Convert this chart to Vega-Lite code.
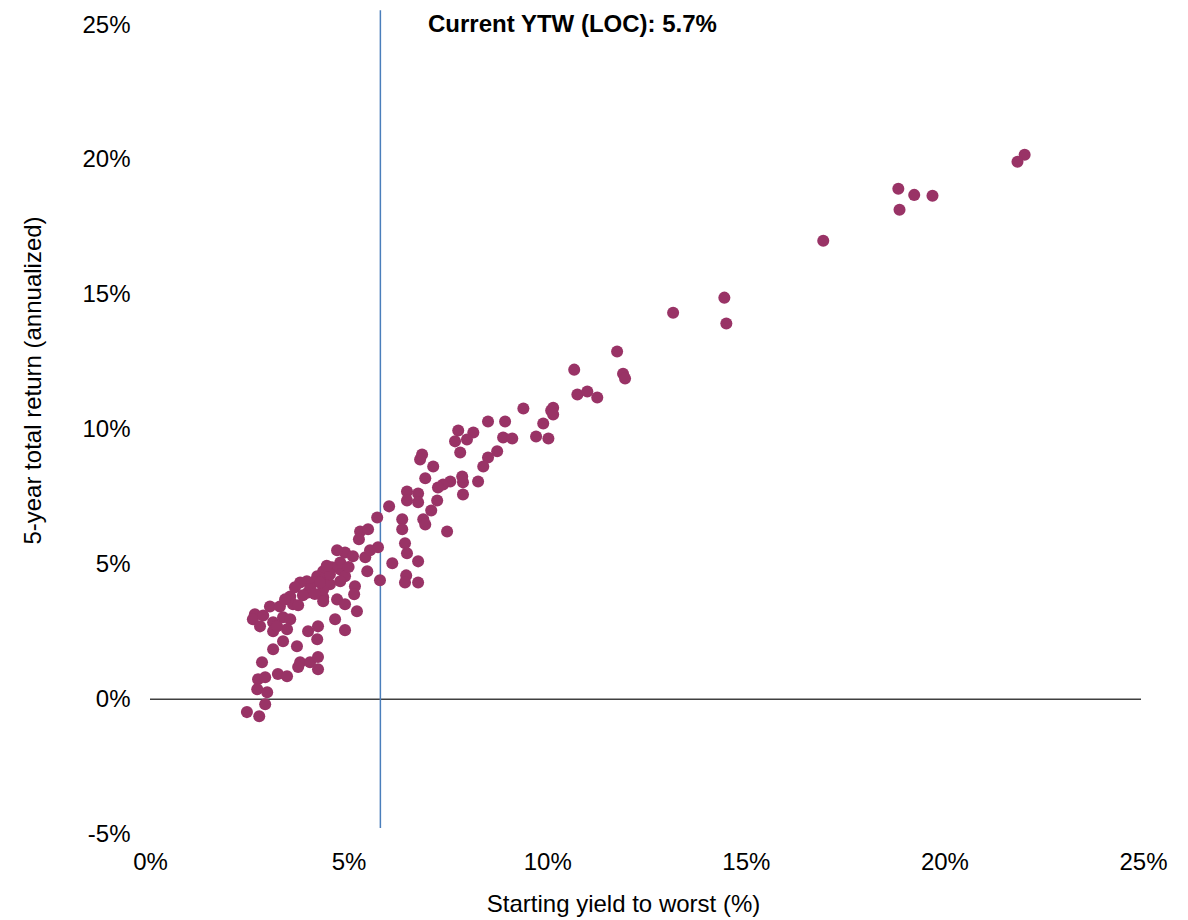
{
  "$schema": "https://vega.github.io/schema/vega-lite/v6.json",
  "width": 993,
  "height": 809,
  "autosize": {"type": "none"},
  "padding": {"left": 150, "top": 25, "right": 45, "bottom": 86},
  "background": "white",
  "config": {
    "view": {"stroke": null},
    "font": "Liberation Sans",
    "axis": {"grid": false, "domain": false, "ticks": false, "labelFlush": false, "labelFont": "Liberation Sans", "titleFont": "Liberation Sans", "labelColor": "#000000", "titleColor": "#000000", "titleFontWeight": "normal"}
  },
  "datasets": {
    "points": [
      {"yield": 22.02, "ret": 20.19}, {"yield": 21.84, "ret": 19.93}, {"yield": 18.84, "ret": 18.93}, {"yield": 19.24, "ret": 18.70},
      {"yield": 19.70, "ret": 18.67}, {"yield": 18.87, "ret": 18.15}, {"yield": 16.95, "ret": 17.00}, {"yield": 14.46, "ret": 14.89},
      {"yield": 13.17, "ret": 14.33}, {"yield": 14.51, "ret": 13.93}, {"yield": 11.76, "ret": 12.89}, {"yield": 11.91, "ret": 12.07},
      {"yield": 11.96, "ret": 11.89}, {"yield": 10.68, "ret": 12.22}, {"yield": 10.76, "ret": 11.30}, {"yield": 11.01, "ret": 11.41},
      {"yield": 11.26, "ret": 11.19}, {"yield": 10.15, "ret": 10.81}, {"yield": 10.10, "ret": 10.70}, {"yield": 10.15, "ret": 10.56},
      {"yield": 9.40, "ret": 10.78}, {"yield": 9.90, "ret": 10.22}, {"yield": 9.72, "ret": 9.74}, {"yield": 10.03, "ret": 9.67},
      {"yield": 8.94, "ret": 10.30}, {"yield": 8.51, "ret": 10.30}, {"yield": 8.89, "ret": 9.70}, {"yield": 9.12, "ret": 9.67},
      {"yield": 8.74, "ret": 9.19}, {"yield": 8.51, "ret": 8.96}, {"yield": 8.39, "ret": 8.63}, {"yield": 8.26, "ret": 8.07},
      {"yield": 7.88, "ret": 8.04}, {"yield": 7.86, "ret": 8.26}, {"yield": 7.88, "ret": 7.59}, {"yield": 7.56, "ret": 8.07},
      {"yield": 7.38, "ret": 7.96}, {"yield": 7.25, "ret": 7.85}, {"yield": 7.76, "ret": 9.96}, {"yield": 8.14, "ret": 9.89},
      {"yield": 7.68, "ret": 9.56}, {"yield": 7.98, "ret": 9.63}, {"yield": 7.81, "ret": 9.15}, {"yield": 6.85, "ret": 9.07},
      {"yield": 6.80, "ret": 8.89}, {"yield": 7.13, "ret": 8.63}, {"yield": 6.93, "ret": 8.19}, {"yield": 7.23, "ret": 7.37},
      {"yield": 6.47, "ret": 7.70}, {"yield": 6.75, "ret": 7.63}, {"yield": 6.47, "ret": 7.37}, {"yield": 6.75, "ret": 7.30},
      {"yield": 6.02, "ret": 7.15}, {"yield": 7.08, "ret": 7.00}, {"yield": 6.88, "ret": 6.67}, {"yield": 6.93, "ret": 6.48},
      {"yield": 5.72, "ret": 6.74}, {"yield": 6.35, "ret": 6.67}, {"yield": 6.35, "ret": 6.30}, {"yield": 7.48, "ret": 6.22},
      {"yield": 5.29, "ret": 6.22}, {"yield": 5.49, "ret": 6.30}, {"yield": 5.26, "ret": 5.93}, {"yield": 6.42, "ret": 5.78},
      {"yield": 6.47, "ret": 5.41}, {"yield": 5.74, "ret": 5.63}, {"yield": 4.91, "ret": 5.44}, {"yield": 5.11, "ret": 5.30},
      {"yield": 5.42, "ret": 5.26}, {"yield": 5.54, "ret": 5.52}, {"yield": 5.47, "ret": 4.74}, {"yield": 6.10, "ret": 5.04},
      {"yield": 6.75, "ret": 5.11}, {"yield": 5.79, "ret": 4.41}, {"yield": 6.45, "ret": 4.59}, {"yield": 6.42, "ret": 4.33},
      {"yield": 6.75, "ret": 4.33}, {"yield": 4.79, "ret": 4.81}, {"yield": 4.91, "ret": 4.56}, {"yield": 5.16, "ret": 4.19},
      {"yield": 5.14, "ret": 3.89}, {"yield": 4.79, "ret": 5.07}, {"yield": 4.58, "ret": 4.89}, {"yield": 4.36, "ret": 4.74},
      {"yield": 4.21, "ret": 4.56}, {"yield": 4.36, "ret": 4.44}, {"yield": 4.53, "ret": 4.26}, {"yield": 4.11, "ret": 4.33},
      {"yield": 3.95, "ret": 4.37}, {"yield": 3.78, "ret": 4.33}, {"yield": 3.65, "ret": 4.15}, {"yield": 3.98, "ret": 3.96},
      {"yield": 4.36, "ret": 3.78}, {"yield": 4.71, "ret": 3.70}, {"yield": 4.91, "ret": 3.52}, {"yield": 3.53, "ret": 3.81},
      {"yield": 3.02, "ret": 3.44}, {"yield": 3.27, "ret": 3.44}, {"yield": 3.60, "ret": 3.52}, {"yield": 4.71, "ret": 5.52},
      {"yield": 4.03, "ret": 4.07}, {"yield": 4.36, "ret": 4.07}, {"yield": 4.28, "ret": 4.33}, {"yield": 4.79, "ret": 4.37},
      {"yield": 4.53, "ret": 4.63}, {"yield": 2.64, "ret": 3.15}, {"yield": 3.73, "ret": 3.48}, {"yield": 2.59, "ret": 2.96},
      {"yield": 2.77, "ret": 2.70}, {"yield": 3.10, "ret": 2.85}, {"yield": 3.35, "ret": 3.04}, {"yield": 3.53, "ret": 2.96},
      {"yield": 3.10, "ret": 2.52}, {"yield": 3.45, "ret": 2.59}, {"yield": 3.35, "ret": 2.15}, {"yield": 3.70, "ret": 1.96},
      {"yield": 3.10, "ret": 1.85}, {"yield": 2.82, "ret": 1.37}, {"yield": 3.98, "ret": 2.52}, {"yield": 4.23, "ret": 2.70},
      {"yield": 4.21, "ret": 2.22}, {"yield": 4.66, "ret": 2.96}, {"yield": 4.91, "ret": 2.56}, {"yield": 4.36, "ret": 3.63},
      {"yield": 5.21, "ret": 3.26}, {"yield": 3.78, "ret": 1.37}, {"yield": 4.03, "ret": 1.37}, {"yield": 4.23, "ret": 1.56},
      {"yield": 4.23, "ret": 1.11}, {"yield": 3.73, "ret": 1.19}, {"yield": 3.22, "ret": 0.93}, {"yield": 3.45, "ret": 0.85},
      {"yield": 2.72, "ret": 0.74}, {"yield": 2.90, "ret": 0.81}, {"yield": 2.70, "ret": 0.37}, {"yield": 2.95, "ret": 0.26},
      {"yield": 2.90, "ret": -0.19}, {"yield": 2.44, "ret": -0.48}, {"yield": 2.75, "ret": -0.63},
      {"yield": 3.85, "ret": 3.85}, {"yield": 3.40, "ret": 3.70}, {"yield": 4.15, "ret": 3.90}, {"yield": 2.85, "ret": 3.10},
      {"yield": 3.20, "ret": 2.70}, {"yield": 4.45, "ret": 4.95}, {"yield": 5.00, "ret": 4.90}
    ],
    "zeroLine": [{"x": 0, "x2": 24.95, "y": 0}],
    "ytwLine": [{"x": 5.8, "y": -4.78, "y2": 25.55}],
    "label": [{"x": 7.0, "y": 25, "text": "Current YTW (LOC): 5.7%"}]
  },
  "layer": [
    {
      "data": {"name": "zeroLine"},
      "mark": {"type": "rule", "color": "#404040", "strokeWidth": 1.5},
      "encoding": {
        "x": {"field": "x", "type": "quantitative", "scale": {"domain": [0, 25], "nice": false, "zero": false}, "axis": {"values": [0, 5, 10, 15, 20, 25], "labelExpr": "datum.value + '%'", "labelFontSize": 24, "labelPadding": 16, "title": "Starting yield to worst (%)", "titleFontSize": 24, "titlePadding": 18, "titleX": 473}},
        "x2": {"field": "x2"},
        "y": {"field": "y", "type": "quantitative", "scale": {"domain": [-5, 25], "nice": false, "zero": false}, "axis": {"values": [-5, 0, 5, 10, 15, 20, 25], "labelExpr": "datum.value + '%'", "labelFontSize": 24, "labelPadding": 20, "title": "5-year total return (annualized)", "titleFontSize": 24, "titlePadding": 36, "titleY": 355}}
      }
    },
    {
      "data": {"name": "ytwLine"},
      "mark": {"type": "rule", "color": "#4a7ebb", "strokeWidth": 1.5, "clip": false},
      "encoding": {
        "x": {"field": "x", "type": "quantitative", "scale": {"domain": [0, 25], "nice": false, "zero": false}},
        "y": {"field": "y", "type": "quantitative", "scale": {"domain": [-5, 25], "nice": false, "zero": false}},
        "y2": {"field": "y2"}
      }
    },
    {
      "data": {"name": "points"},
      "mark": {"type": "circle", "color": "#993366", "opacity": 1, "size": 145},
      "encoding": {
        "x": {"field": "yield", "type": "quantitative", "scale": {"domain": [0, 25], "nice": false, "zero": false}},
        "y": {"field": "ret", "type": "quantitative", "scale": {"domain": [-5, 25], "nice": false, "zero": false}}
      }
    },
    {
      "data": {"name": "label"},
      "mark": {"type": "text", "align": "left", "baseline": "middle", "fontWeight": "bold", "fontSize": 24, "font": "Liberation Sans", "color": "#000000", "clip": false},
      "encoding": {
        "x": {"field": "x", "type": "quantitative", "scale": {"domain": [0, 25], "nice": false, "zero": false}},
        "y": {"field": "y", "type": "quantitative", "scale": {"domain": [-5, 25], "nice": false, "zero": false}},
        "text": {"field": "text"}
      }
    }
  ]
}
